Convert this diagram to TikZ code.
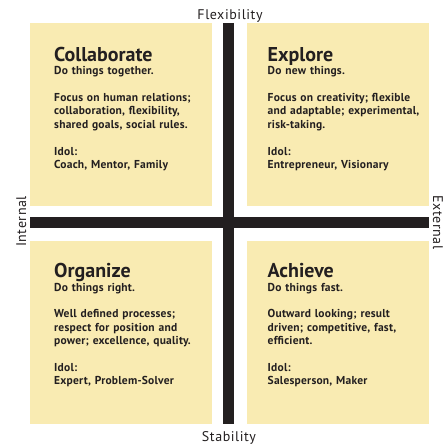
\documentclass[tikz,border=0pt]{standalone}
\usepackage{fontspec}
\setmainfont{PT Sans}
\newfontfamily\quadfont{PT Sans}[LetterSpace=2]
\newfontfamily\axisfont{PT Sans}[LetterSpace=4]
\definecolor{quadfill}{HTML}{F9EBB2}
\definecolor{axisblack}{HTML}{231F20}
\tikzset{
  quad/.style={fill=quadfill, draw=none, minimum width=182pt, minimum height=183pt, inner sep=0pt, anchor=north west},
  qtitle/.style={anchor=base west, inner sep=0pt, font=\fontsize{20}{24}\selectfont\bfseries, text=axisblack},
  qbody/.style={anchor=base west, inner sep=0pt, text width=170pt, align=left,
    font=\quadfont\fontsize{11.5}{13.4}\selectfont\bfseries, text=axisblack},
  axisbar/.style={line width=11pt, draw=axisblack},
  axislabel/.style={anchor=base, inner sep=0pt, font=\axisfont\fontsize{14}{16}\selectfont, text=axisblack}
}
\begin{document}
\begin{tikzpicture}[x=1pt, y=-1pt]
  \useasboundingbox (0,0) rectangle (443,444);

  % quadrants
  \node[quad] (collabbox) at (30,23) {};
  \node[quad] (explorebox) at (247,23) {};
  \node[quad] (organizebox) at (30,241) {};
  \node[quad] (achievebox) at (247,241) {};

  % axes
  \coordinate (flextop) at (228.5,23);
  \coordinate (stabbottom) at (228.5,424);
  \coordinate (intleft) at (30,222.5);
  \coordinate (extright) at (429,222.5);
  \draw[axisbar] (flextop) -- (stabbottom);
  \draw[axisbar] (intleft) -- (extright);

  \node[axislabel] (flexlabel) at (230,20) {Flexibility};
  \node[axislabel] (stablabel) at (229,441) {Stability};
  \node[axislabel, rotate=90] (intlabel) at (26,221.5) {Internal};
  \node[axislabel, rotate=-90] (extlabel) at (433,222.5) {External};

  % texts
  \node[qtitle] (collabtitle) at (54,61) {Collaborate};
  \node[qbody] (collabtext) at (54,74.7) {Do things together.\\[13.4pt]
    Focus on human relations;\\ collaboration, flexibility,\\ shared goals, social rules.\\[13.4pt]
    Idol:\\ Coach, Mentor, Family};

  \node[qtitle] (exploretitle) at (267.5,61) {Explore};
  \node[qbody] (exploretext) at (267.5,74.7) {Do new things.\\[13.4pt]
    Focus on creativity; flexible\\ and adaptable; experimental,\\ risk-taking.\\[13.4pt]
    Idol:\\ Entrepreneur, Visionary};

  \node[qtitle] (organizetitle) at (54,277.5) {Organize};
  \node[qbody] (organizetext) at (54,291) {Do things right.\\[13.4pt]
    Well defined processes;\\ respect for position and\\ power; excellence, quality.\\[13.4pt]
    Idol:\\ Expert, Problem-Solver};

  \node[qtitle] (achievetitle) at (267.5,277.5) {Achieve};
  \node[qbody] (achievetext) at (267.5,291) {Do things fast.\\[13.4pt]
    Outward looking; result\\ driven; competitive, fast,\\ efficient.\\[13.4pt]
    Idol:\\ Salesperson, Maker};
\end{tikzpicture}
\end{document}
